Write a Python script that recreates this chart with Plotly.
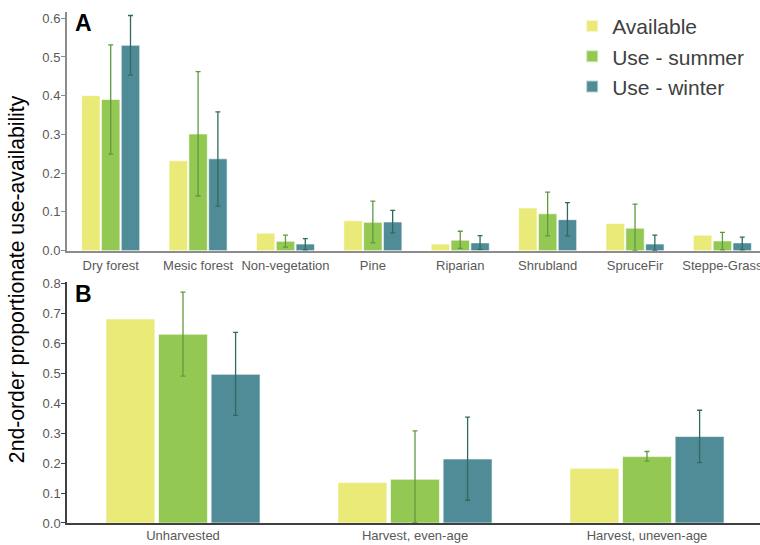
import plotly.graph_objects as go

# Panel A: vegetation cover types
cover_types = ["Dry forest", "Mesic forest", "Non-vegetation", "Pine", "Riparian",
               "Shrubland", "SpruceFir", "Steppe-Grass"]
cover_available = [0.400, 0.232, 0.045, 0.077, 0.017, 0.110, 0.070, 0.040]
cover_summer = [0.390, 0.301, 0.024, 0.073, 0.027, 0.095, 0.058, 0.025]
cover_summer_hi = [0.531, 0.462, 0.040, 0.128, 0.050, 0.151, 0.120, 0.047]
cover_summer_lo = [0.249, 0.141, 0.009, 0.020, 0.006, 0.038, 0.000, 0.002]
cover_winter = [0.530, 0.237, 0.017, 0.074, 0.020, 0.080, 0.017, 0.020]
cover_winter_hi = [0.607, 0.358, 0.031, 0.104, 0.039, 0.124, 0.040, 0.035]
cover_winter_lo = [0.453, 0.115, 0.002, 0.046, 0.003, 0.038, 0.000, 0.002]

# Panel B: harvest history
harvest_types = ["Unharvested", "Harvest, even-age", "Harvest, uneven-age"]
harvest_available = [0.682, 0.135, 0.183]
harvest_summer = [0.631, 0.146, 0.222]
harvest_summer_hi = [0.772, 0.308, 0.239]
harvest_summer_lo = [0.491, 0.000, 0.207]
harvest_winter = [0.497, 0.214, 0.289]
harvest_winter_hi = [0.637, 0.354, 0.377]
harvest_winter_lo = [0.360, 0.076, 0.202]

series_names = ["Available", "Use - summer", "Use - winter"]
bar_colors = ["#E9EA78", "#93C852", "#508C97"]
err_colors = [None, "#5F9A40", "#2E6B5D"]

fig = go.Figure()


def add_panel(cats, avail, summ, s_hi, s_lo, wint, w_hi, w_lo, xa, ya, show):
    vals = [avail, summ, wint]
    his = [None, s_hi, w_hi]
    los = [None, s_lo, w_lo]
    for i in range(3):
        err = None
        if his[i] is not None:
            err = dict(type="data", symmetric=False,
                       array=[h - v for h, v in zip(his[i], vals[i])],
                       arrayminus=[v - l for v, l in zip(vals[i], los[i])],
                       color=err_colors[i], thickness=1.3, width=2.5)
        fig.add_trace(go.Bar(
            x=cats, y=vals[i], name=series_names[i], marker_color=bar_colors[i],
            marker_line=dict(color="rgba(255,255,255,0.6)", width=1),
            error_y=err, xaxis=xa, yaxis=ya, showlegend=show,
            legendgroup=series_names[i]))


add_panel(cover_types, cover_available, cover_summer, cover_summer_hi, cover_summer_lo,
          cover_winter, cover_winter_hi, cover_winter_lo, "x", "y", True)
add_panel(harvest_types, harvest_available, harvest_summer, harvest_summer_hi,
          harvest_summer_lo, harvest_winter, harvest_winter_hi, harvest_winter_lo,
          "x2", "y2", False)

tick_font = dict(family="Liberation Sans, Arial, sans-serif", size=13, color="#595959")

fig.update_layout(
    width=760, height=545,
    margin=dict(l=67, r=0, t=12, b=22, autoexpand=False),
    paper_bgcolor="white", plot_bgcolor="white",
    barmode="group", bargap=0.32, bargroupgap=0.07,
    font=dict(family="Liberation Sans, Arial, sans-serif", color="#404040"),
    xaxis=dict(domain=[0, 1], anchor="y", range=[-0.5, 7.43], showline=True,
               linecolor="#8C8C8C", linewidth=2, ticks="", tickfont=tick_font,
               ticklabelstandoff=2, automargin=False,
               showgrid=False, zeroline=False),
    yaxis=dict(domain=[0.533, 1.0], anchor="x", range=[0, 0.616], dtick=0.1,
               tickformat=".1f", showline=True, linecolor="#8C8C8C", linewidth=2,
               ticks="outside", ticklen=4, tickcolor="#8C8C8C", tickfont=tick_font,
               ticklabelstandoff=-2, automargin=False,
               showgrid=False, zeroline=False),
    xaxis2=dict(domain=[0, 1], anchor="y2", range=[-0.5, 2.487], showline=True,
                linecolor="#404040", linewidth=2, ticks="", tickfont=tick_font,
                ticklabelstandoff=-1, automargin=False,
                showgrid=False, zeroline=False),
    yaxis2=dict(domain=[0, 0.4722], anchor="x2", range=[0, 0.8067], dtick=0.1,
                tickformat=".1f", showline=True, linecolor="#404040", linewidth=1.5,
                ticks="outside", ticklen=4, tickcolor="#404040", tickfont=tick_font,
                ticklabelstandoff=-2, automargin=False,
                showgrid=False, zeroline=False),
    legend=dict(x=0.729, y=1.012, xanchor="left", yanchor="top",
                font=dict(size=21, color="#404040"), bgcolor="rgba(0,0,0,0)",
                itemsizing="constant", tracegroupgap=0, itemwidth=30),
    showlegend=True,
)

fig.add_annotation(text="<b>A</b>", x=0.008, y=1.008, xref="paper", yref="paper",
                   xanchor="left", yanchor="top", showarrow=False,
                   font=dict(size=23, color="black"))
fig.add_annotation(text="<b>B</b>", x=0.008, y=0.478, xref="paper", yref="paper",
                   xanchor="left", yanchor="top", showarrow=False,
                   font=dict(size=23, color="black"))
fig.add_annotation(text="2nd-order proportionate use-availability", textangle=-90,
                   x=-0.073, y=0.478, xref="paper", yref="paper", xanchor="center",
                   yanchor="middle", showarrow=False,
                   font=dict(size=21.2, color="black"))

fig.write_html("out.html")
